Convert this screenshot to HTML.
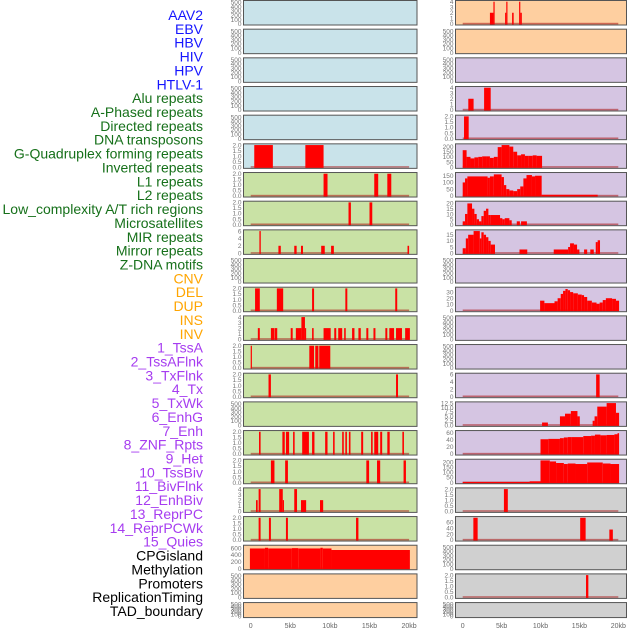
<!DOCTYPE html>
<html><head><meta charset="utf-8"><style>
html,body{margin:0;padding:0;background:#fff;width:630px;height:630px;overflow:hidden}
svg{display:block;font-family:"Liberation Sans",sans-serif}
</style></head><body>
<svg id="chart" width="630" height="630" viewBox="0 0 630 630"></svg>
<script>
const trackLabels = ["AAV2","EBV","HBV","HIV","HPV","HTLV-1","Alu repeats","A-Phased repeats","Directed repeats","DNA transposons","G-Quadruplex forming repeats","Inverted repeats","L1 repeats","L2 repeats","Low_complexity A/T rich regions","Microsatellites","MIR repeats","Mirror repeats","Z-DNA motifs","CNV","DEL","DUP","INS","INV","1_TssA","2_TssAFlnk","3_TxFlnk","4_Tx","5_TxWk","6_EnhG","7_Enh","8_ZNF_Rpts","9_Het","10_TssBiv","11_BivFlnk","12_EnhBiv","13_ReprPC","14_ReprPCWk","15_Quies","CPGisland","Methylation","Promoters","ReplicationTiming","TAD_boundary"];
const labelColors = ["#1515ff","#1515ff","#1515ff","#1515ff","#1515ff","#1515ff","#16701a","#16701a","#16701a","#16701a","#16701a","#16701a","#16701a","#16701a","#16701a","#16701a","#16701a","#16701a","#16701a","#ffa500","#ffa500","#ffa500","#ffa500","#ffa500","#a63cf0","#a63cf0","#a63cf0","#a63cf0","#a63cf0","#a63cf0","#a63cf0","#a63cf0","#a63cf0","#a63cf0","#a63cf0","#a63cf0","#a63cf0","#a63cf0","#a63cf0","#000","#000","#000","#000","#000"];
const xTickValues = [0,5,10,15,20];
const xTickLabels = ["0","5kb","10kb","15kb","20kb"];
const T500 = ["0","100","200","300","400","500"];
const T2 = ["0.0","0.5","1.0","1.5","2.0"];
const T4 = ["0","1","2","3","4"];
const T6 = ["0","2","4","6"];
// left column segments [startKb, endKb, value]
const L06 = [[0.45,2.8,2],[6.9,9.2,2]];
const L07 = [[9.2,9.7,2],[15.6,16.1,2],[17.25,17.75,2]];
const L08 = [[12.35,12.65,2],[15.0,15.35,2]];
const L09 = [[1.1,1.27,6],[3.5,3.8,2],[5.5,5.8,2],[6.35,6.6,2],[8.9,9.35,2],[10.15,10.5,2],[19.8,20,2]];
const L11 = [[0.55,1.15,2],[3.3,4.1,2],[7.75,8.0,2],[11.95,12.2,2],[18.25,18.5,2]];
const L12 = [[0.9,1.15,2],[2.55,2.95,2],[3.0,3.35,2],[5.05,5.3,2],[5.7,6.4,2],[6.4,6.85,4],[6.85,7.0,2],[7.75,7.95,2],[9.2,10.1,2],[10.55,10.8,2],[11.05,11.55,2],[11.8,12.0,2],[12.8,13.1,2],[13.6,13.9,2],[14.6,14.85,2],[15.5,15.75,2],[17.0,17.25,2],[17.5,18.1,2],[18.35,19.1,2],[19.5,20.1,2]];
const L13 = [[0,0.12,2],[7.4,8.0,2],[8.15,8.55,2],[8.65,10.05,2]];
const L14 = [[2.25,2.55,2],[18.35,18.6,2]];
const L16 = [[1.05,1.25,2],[4.0,4.3,2],[4.45,4.85,2],[5.35,5.55,2],[6.5,7.35,2],[7.75,8.05,2],[9.4,9.7,2],[10.4,10.6,2],[11.55,11.75,2],[11.95,12.15,2],[12.4,12.6,2],[13.95,14.2,2],[15.2,15.4,2],[15.6,16.1,2],[16.35,16.6,2],[17.25,17.55,2],[19.15,19.35,2]];
const L17 = [[2.55,3.0,2],[4.35,4.7,2],[14.6,14.95,2],[15.95,16.35,2],[19.3,19.6,2]];
const L18 = [[0.67,0.88,2],[1.0,1.25,4],[3.6,4.05,4],[4.05,4.2,2],[5.5,5.85,4],[6.35,7.0,2],[8.75,9.15,2]];
const L19 = [[1.0,1.25,2],[2.3,2.55,2],[4.45,4.7,2],[13.3,13.6,2]];
const L20 = [[-0.1,1.8,590],[1.8,2.2,610],[2.2,5.2,590],[5.2,6.0,600],[6.0,8.8,590],[8.8,9.1,610],[9.1,10.2,590],[10.2,20.1,545]];
// right column
const R01 = [[3.5,3.95,2],[3.95,4.1,4],[5.45,5.6,2],[5.6,5.75,4],[6.35,6.55,2],[7.25,7.4,4],[7.4,7.6,2]];
const R04 = [[0.72,1.4,2],[2.75,3.6,4]];
const R05 = [[0.17,0.77,2]];
const R06 = [[0,0.5,165],[0.5,1,100],[1,1.5,85],[1.5,2,95],[2,2.5,100],[2.5,3,105],[3,3.5,105],[3.5,4,90],[4,4.5,100],[4.5,5,195],[5,5.5,215],[5.5,6,215],[6,6.5,200],[6.5,7,150],[7,7.5,115],[7.5,8,125],[8,8.5,110],[8.5,9,110],[9,9.5,115],[9.5,10.2,110]];
const R07 = [[0,0.3,100],[0.3,0.6,130],[0.6,3.2,145],[3.2,3.5,135],[3.5,4.0,145],[4.0,5.0,160],[5.0,5.3,140],[5.3,5.6,80],[5.6,6,50],[6,6.5,40],[6.5,7,35],[7,7.4,50],[7.4,7.8,70],[7.8,8.2,130],[8.2,8.9,155],[8.9,9.3,145],[9.3,10.15,150],[10.15,17.35,8]];
const R08 = [[0,0.3,3],[0.3,0.6,10],[0.6,1.2,20],[1.2,1.5,15],[1.5,1.8,10],[1.8,2.1,5],[2.1,2.4,3],[2.4,2.7,8],[2.7,3.0,13],[3.0,3.3,15],[3.3,3.6,9],[3.6,4.8,9],[4.8,5.1,6],[5.1,5.4,5],[5.4,6.0,6],[6.0,6.3,4],[6.95,7.35,3],[7.5,8.25,3]];
const R09 = [[0,0.4,4],[0.4,0.7,12],[0.7,1.4,15],[1.4,2.2,18],[2.2,2.4,12],[2.4,2.7,17],[2.7,3.0,15],[3.0,3.3,13],[3.3,3.6,10],[3.6,4.15,7],[7.3,8.3,3],[11.7,13.55,3],[13.55,13.8,5],[13.8,14.3,8],[14.3,14.7,7],[14.7,15.0,3],[15.6,16.0,3],[16.4,16.85,3],[17.1,17.35,9],[17.35,17.65,10.5]];
const R11 = [[9.95,10.5,16],[10.5,11.8,12],[11.8,12.2,15],[12.2,12.6,20],[12.6,12.9,27],[12.9,13.2,32],[13.2,13.5,35],[13.5,13.8,33],[13.8,14.2,30],[14.2,14.8,28],[14.8,15.3,26],[15.3,15.6,25],[15.6,16.0,22],[16.0,16.6,16],[16.6,17.2,13],[17.2,17.6,11],[17.6,18.0,13],[18.0,18.4,17],[18.4,19.2,20],[19.2,19.7,19],[19.7,20.1,16]];
const R14 = [[17.15,17.6,6]];
const R15 = [[10.2,10.95,1.5],[12.5,13.15,5],[13.15,13.9,6.5],[13.9,14.75,8],[14.75,15.05,5],[16.7,16.95,2.5],[16.95,17.3,5],[17.3,18.5,10.5],[18.5,19.7,12.5],[19.7,20.1,7]];
const R16 = [[10,11,41],[11,12.5,42],[12.5,13,44],[13,13.5,46],[13.5,14,47],[14,15.5,47],[15.5,16.5,50],[16.5,17,51],[17,17.7,54],[17.7,18.5,52],[18.5,19.5,53],[19.5,19.9,55],[19.9,20.1,58]];
const R17 = [[0,8.6,5],[8.6,10,12],[10,11.2,215],[11.2,12,205],[12,13,190],[13,13.5,180],[13.5,14.5,185],[14.5,16,180],[16,18,195],[18,19,185],[19,20.1,180]];
const R18 = [[5.3,5.8,2]];
const R19 = [[1.37,1.92,75],[15.1,15.8,75],[18.85,19.3,35]];
const R21 = [[15.85,16.15,2]];

const BG = {b:"#c9e3ea", g:"#c9e2a5", o:"#fecfa0", p:"#d5c5e2", s:"#d0d0d0"};
const leftRows = [
 ["b",T500,500,null],["b",T500,500,null],["b",T500,500,null],["b",T500,500,null],["b",T500,500,null],
 ["b",T2,2,L06],["g",T2,2,L07],["g",T2,2,L08],["g",T6,6,L09],["g",T500,500,null],
 ["g",T2,2,L11],["g",T4,4,L12],["g",T2,2,L13],["g",T2,2,L14],["g",T500,500,null],
 ["g",T2,2,L16],["g",T2,2,L17],["g",T4,4,L18],["g",T2,2,L19],["o",["0","200","400","600"],650,L20],
 ["o",T500,500,null],["o",T500,500,null]];
const rightRows = [
 ["o",T4,4,R01],["o",T500,500,null],["p",T500,500,null],["p",T4,4,R04],["p",T2,2,R05],
 ["p",["0","50","100","150","200"],215,R06],["p",["0","50","100","150"],165,R07],["p",["0","5","10","15","20"],21,R08],["p",["0","5","10","15"],18,R09],["p",T500,500,null],
 ["p",["0","10","20","30"],36,R11],["p",T500,500,null],["p",T500,500,null],["p",T6,6,R14],["p",["0.0","2.5","5.0","7.5","10.0","12.5"],12.5,R15],
 ["p",["0","20","40","60"],62,R16],["p",["0","50","100","150","200"],215,R17],["s",T2,2,R18],["s",["0","20","40","60"],75,R19],["s",T500,500,null],
 ["s",T2,2,R21],["s",T500,500,null]];

const NS="http://www.w3.org/2000/svg";
const svg=document.getElementById("chart");
function mk(tag,attrs,parent){const e=document.createElementNS(NS,tag);for(const k in attrs)e.setAttribute(k,attrs[k]);(parent||svg).appendChild(e);return e;}

// labels
trackLabels.forEach((t,i)=>{
  const el=mk("text",{x:203,y:(20+i*13.86).toFixed(1),"text-anchor":"end","font-size":"14",fill:labelColors[i]});
  el.textContent=t;
  
  
});

function drawColumn(rows,px0,px1,x0,pxPerKb,side){
  const xs=kb=>x0+kb*pxPerKb;
  rows.forEach((r,i)=>{
    const [bgk,ticks,ymax,data]=r;
    const top=i*28.67+0.5;
    const h=(i===21)?15:24.5;
    const g=mk("g",{});
    
    
    const bg=mk("rect",{x:px0,y:top,width:px1-px0,height:h,fill:BG[bgk]},g);
    
    
    const y0=top+h-1.2, yT=top+1.2;
    const ys=v=>y0-(v/ymax)*(y0-yT);
    const tmax=parseFloat(ticks[ticks.length-1]);
    ticks.forEach(t=>{
      const v=parseFloat(t);
      const ty=y0-(v/(data?ymax:tmax))*(data?(y0-yT):(h-3));
      const tl=mk("text",{x:px0-2,y:(ty+2.3).toFixed(1),"text-anchor":"end","font-size":"6.5",fill:"#777"},g);
      tl.textContent=t;
      
      
    });
    if(data){
      const base=mk("rect",{x:xs(0),y:y0-1,width:xs(20)-xs(0),height:1.6,fill:"rgba(170,20,20,0.55)"},g);
      
      
      data.forEach(d=>{
        const v=Math.min(d[2],ymax);
        const yy=Math.max(ys(v),top);
        const b=mk("rect",{x:xs(d[0]).toFixed(2),y:yy.toFixed(2),width:Math.max(xs(d[1])-xs(d[0]),1.2).toFixed(2),height:(y0+0.8-yy).toFixed(2),fill:"#ff0000"},g);
        
        
      });
    }
    const fr=mk("rect",{x:px0,y:top,width:px1-px0,height:h,fill:"none",stroke:"#555","stroke-width":"1"},g);
    
    
  });
  xTickValues.forEach((v,k)=>{
    const t=mk("text",{x:xs(v),y:628,"text-anchor":"middle","font-size":"7",fill:"#666"});
    t.textContent=xTickLabels[k];
    
    
  });
}
drawColumn(leftRows,243.5,417,250.7,7.92,"left");
drawColumn(rightRows,455.5,626.5,462.7,7.78,"right");
</script>
</body></html>
